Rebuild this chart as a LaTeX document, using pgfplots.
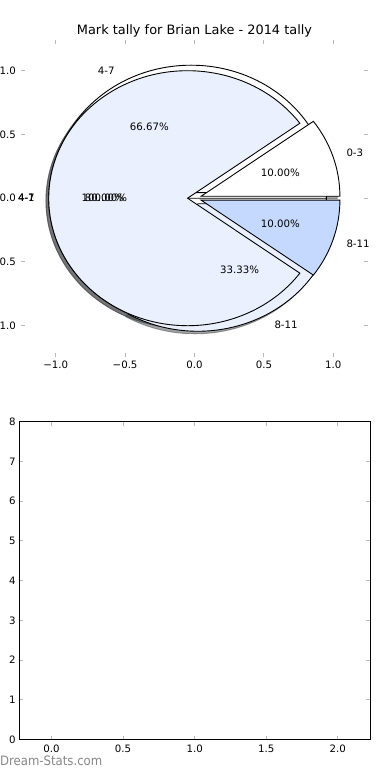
\documentclass[border=0pt]{standalone}
\usepackage{pgfplots}
\pgfplotsset{compat=1.18}
\usepackage{fontspec}
\setmainfont{DejaVu Sans}
\newfontfamily\wmfont{DejaVu Sans Condensed}
\definecolor{paleblue}{RGB}{234,240,254}
\definecolor{midblue}{RGB}{197,216,253}
\definecolor{shwhite}{RGB}{77,77,77}
\definecolor{shpale}{RGB}{70,72,76}
\definecolor{shmid}{RGB}{59,65,76}
\def\XR{138.8bp}
\def\YR{127.5bp}
% wedge: style, centre x, centre y, start angle, end angle
\newcommand{\pwedge}[5]{\filldraw[#1] (axis cs:#2,#3) -- ++({\XR*cos(#4)},{\YR*sin(#4)}) arc[start angle=#4,end angle=#5,x radius=\XR,y radius=\YR] -- cycle;}
\newcommand{\pshadow}[5]{\filldraw[#1,xshift=-2.776bp,yshift=-2.55bp,opacity=0.5,line width=0.9bp] (axis cs:#2,#3) -- ++({\XR*cos(#4)},{\YR*sin(#4)}) arc[start angle=#4,end angle=#5,x radius=\XR,y radius=\YR] -- cycle;}
\begin{document}
\begin{tikzpicture}
\useasboundingbox (0,0) rectangle (390bp,780bp);
% ---- data ----
\def\Azero{1}\def\Afour{8}\def\Aeight{1}   % pie A: 0-3, 4-7, 8-11
\def\Bfour{2}\def\Beight{1}                % pie B: 4-7, 8-11
\def\Cone{1}                               % pie C: single slice
\def\expl{0.05}
\pgfmathsetmacro\At{\Azero+\Afour+\Aeight}
\pgfmathsetmacro\Aa{360*\Azero/\At}
\pgfmathsetmacro\Ab{360*(\Azero+\Afour)/\At}
\pgfmathsetmacro\Bt{\Bfour+\Beight}
\pgfmathsetmacro\Ba{360*\Bfour/\Bt}
\pgfmathsetmacro\AoX{\expl*cos(\Aa/2)}\pgfmathsetmacro\AoY{\expl*sin(\Aa/2)}
\pgfmathsetmacro\AfX{\expl*cos((\Aa+\Ab)/2)}\pgfmathsetmacro\AfY{\expl*sin((\Aa+\Ab)/2)}
\pgfmathsetmacro\AeX{\expl*cos((\Ab+360)/2)}\pgfmathsetmacro\AeY{\expl*sin((\Ab+360)/2)}
\pgfmathsetmacro\BfX{\expl*cos(\Ba/2)}\pgfmathsetmacro\BfY{\expl*sin(\Ba/2)}
\pgfmathsetmacro\BeX{\expl*cos((\Ba+360)/2)}\pgfmathsetmacro\BeY{\expl*sin((\Ba+360)/2)}
\pgfmathsetmacro\CX{\expl*cos(180)}\pgfmathsetmacro\CY{0}
\begin{axis}[
  at={(21bp,423.3bp)}, anchor=south west,
  width=347bp, height=316.7bp, scale only axis,
  xmin=-1.25, xmax=1.25, ymin=-1.243, ymax=1.241,
  axis line style={draw=none},
  xtick={-1,-0.5,0,0.5,1}, xticklabels={−1.0,−0.5,0.0,0.5,1.0},
  ytick={-1,-0.5,0,0.5,1}, yticklabels={−1.0,−0.5,0.0,0.5,1.0},
  tick align=inside, major tick length=4bp,
  tick style={draw=black!28, line width=1bp},
  ticklabel style={font=\fontsize{10.2bp}{12bp}\selectfont, inner sep=0pt},
  xticklabel style={yshift=-4.5bp}, yticklabel style={xshift=-5bp},
  clip=false,
]
% shadows
\pshadow{fill=shwhite,draw=shwhite}{\CX}{\CY}{0}{360}
\pshadow{fill=shwhite,draw=shwhite}{\BfX}{\BfY}{0}{\Ba}
\pshadow{fill=shpale,draw=shpale}{\BeX}{\BeY}{\Ba}{360}
\pshadow{fill=shwhite,draw=shwhite}{\AoX}{\AoY}{0}{\Aa}
\pshadow{fill=shpale,draw=shpale}{\AfX}{\AfY}{\Aa}{\Ab}
\pshadow{fill=shmid,draw=shmid}{\AeX}{\AeY}{\Ab}{360}
% pie C
\pwedge{fill=white,draw=black,line width=0.9bp}{\CX}{\CY}{0}{360}
% pie B
\pwedge{fill=white,draw=black,line width=0.9bp}{\BfX}{\BfY}{0}{\Ba}
\pwedge{fill=paleblue,draw=black,line width=0.9bp}{\BeX}{\BeY}{\Ba}{360}
% pie A
\pwedge{fill=white,draw=black,line width=0.9bp}{\AoX}{\AoY}{0}{\Aa}
\pwedge{fill=paleblue,draw=black,line width=0.9bp}{\AfX}{\AfY}{\Aa}{\Ab}
\pwedge{fill=midblue,draw=black,line width=0.9bp}{\AeX}{\AeY}{\Ab}{360}
% labels
\begin{scope}[every node/.style={inner sep=0pt, font=\fontsize{10.2bp}{12bp}\selectfont}]
\node[anchor=east] at (axis cs:-1.15,0) {4-1};
\node at (axis cs:-0.65,0) {100.00\%};
\node[anchor=east] at (axis cs:-0.575,0.996) {4-7};
\node at (axis cs:-0.325,0.563) {66.67\%};
\node at (axis cs:0.325,-0.563) {33.33\%};
\node[anchor=west] at (axis cs:0.575,-0.996) {8-11};
\node[anchor=west] at (axis cs:1.0937,0.3554) {0-3};
\node at (axis cs:0.6182,0.2009) {10.00\%};
\node at (axis cs:-0.65,0) {80.00\%};
\node[anchor=east] at (axis cs:-1.15,0) {4-7};
\node at (axis cs:0.6182,-0.2009) {10.00\%};
\node[anchor=west] at (axis cs:1.0937,-0.3554) {8-11};
\end{scope}
\end{axis}
\begin{axis}[
  at={(19.3bp,40.3bp)}, anchor=south west,
  width=350.7bp, height=318bp, scale only axis,
  xmin=-0.225, xmax=2.225, ymin=0, ymax=8,
  axis line style={draw=black, line width=1bp},
  xtick={0,0.5,1,1.5,2}, xticklabels={0.0,0.5,1.0,1.5,2.0},
  ytick={0,1,2,3,4,5,6,7,8}, yticklabels={0,1,2,3,4,5,6,7,8},
  tick align=inside, major tick length=4bp,
  tick style={draw=black!28, line width=1bp},
  ticklabel style={font=\fontsize{10.2bp}{12bp}\selectfont, inner sep=0pt},
  xticklabel style={yshift=-5bp}, yticklabel style={xshift=-3.5bp},
]
\end{axis}
\node[anchor=base, inner sep=0pt, font=\fontsize{12.9bp}{15bp}\selectfont] at (194.5bp,745.7bp) {Mark tally for Brian Lake - 2014 tally};
\node[anchor=base west, inner sep=0pt, text=black!47, font=\wmfont\fontsize{13bp}{15bp}\selectfont] at (0bp,15bp) {Dream-Stats.com};
\end{tikzpicture}
\end{document}
